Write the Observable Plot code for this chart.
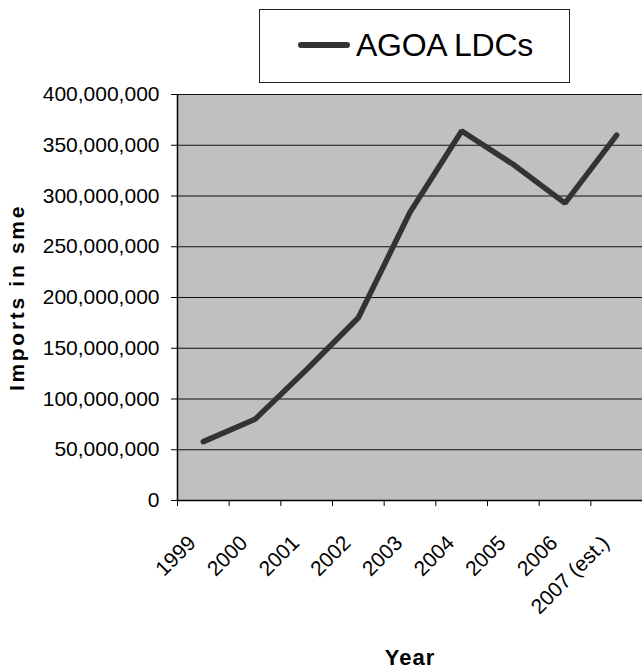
<!DOCTYPE html>
<html>
<head>
<meta charset="utf-8">
<script src="https://cdn.jsdelivr.net/npm/d3@7"></script>
<script src="https://cdn.jsdelivr.net/npm/@observablehq/plot@0.6"></script>
<style>
  html, body { margin: 0; padding: 0; background: #fff; }
  body { width: 642px; height: 671px; overflow: hidden; font-family: "Liberation Sans", Arial, sans-serif; }
  #legend { position: relative; height: 70px; width: 642px; z-index: 2; }
  #legend .box { position: absolute; left: 259px; top: 9px; width: 311px; height: 74px; border: 1px solid #222; box-sizing: border-box; background: #fff; }
  #legend .sw { position: absolute; left: 298px; top: 42px; width: 52px; height: 6px; background: #333; border-radius: 3px; }
  #legend .lab { position: absolute; left: 356px; top: 26px; font-size: 32px; line-height: 38px; color: #000; letter-spacing: -0.3px; }
</style>
</head>
<body>
<div id="legend"><div class="box"></div><div class="sw"></div><div class="lab">AGOA LDCs</div></div>
<div id="chart"></div>
<script>
const years = ["1999", "2000", "2001", "2002", "2003", "2004", "2005", "2006", "2007 (est.)"];
const imports = [58e6, 80e6, 129e6, 180e6, 284e6, 364e6, 331e6, 293e6, 360e6];
const yTicks = [0, 50e6, 100e6, 150e6, 200e6, 250e6, 300e6, 350e6, 400e6];
const seriesName = "AGOA LDCs";
const yTitle = "Imports in sme";
const xTitle = "Year";

const data = years.map((y, i) => ({year: y, idx: i + 0.5, value: imports[i]}));
const fmt = d3.format(",");

const chart = Plot.plot({
  width: 642,
  height: 601,
  marginTop: 24,
  marginLeft: 177,
  marginRight: 0,
  marginBottom: 171,
  style: {fontFamily: "Liberation Sans, Arial, sans-serif", background: "transparent", color: "#000"},
  x: {domain: [0, years.length], axis: null},
  y: {domain: [0, 400e6], axis: null},
  marks: [
    Plot.frame({fill: "#c0c0c0", stroke: null}),
    Plot.ruleY(yTicks.slice(1), {stroke: "#111", strokeWidth: 1}),
    Plot.line(data, {x: "idx", y: "value", stroke: "#333", strokeWidth: 5.5, strokeLinecap: "round", strokeLinejoin: "miter"}),
    Plot.ruleX([0], {stroke: "#000", strokeWidth: 1.5}),
    Plot.ruleY([0], {stroke: "#000", strokeWidth: 1.5}),
    Plot.axisY({ticks: yTicks, tickFormat: fmt, tickSize: 6, tickPadding: 12, fontSize: 21, label: null, stroke: "#000"}),
    Plot.axisX({ticks: d3.range(0, years.length + 1), tickFormat: () => "", tickSize: 6, label: null, stroke: "#000"}),
    Plot.axisX({ticks: data.map(d => d.idx), tickFormat: (d) => years[Math.round(d - 0.5)], tickSize: 0, tickPadding: 39, tickRotate: -45, fontSize: 21, label: null, dx: -11}),
    Plot.text([yTitle], {frameAnchor: "left", textAnchor: "middle", dx: -160, rotate: -90, fontSize: 21, fontWeight: "bold", fill: "#000"}),
    Plot.text([xTitle], {frameAnchor: "bottom", textAnchor: "middle", dy: 164, fontSize: 22, fontWeight: "bold", fill: "#000"})
  ]
});
document.getElementById("chart").appendChild(chart);
chart.querySelectorAll("text").forEach(t => {
  if (t.textContent === yTitle) t.setAttribute("letter-spacing", "2.7px");
  if (t.textContent === xTitle) t.setAttribute("letter-spacing", "1px");
});
</script>
</body>
</html>
